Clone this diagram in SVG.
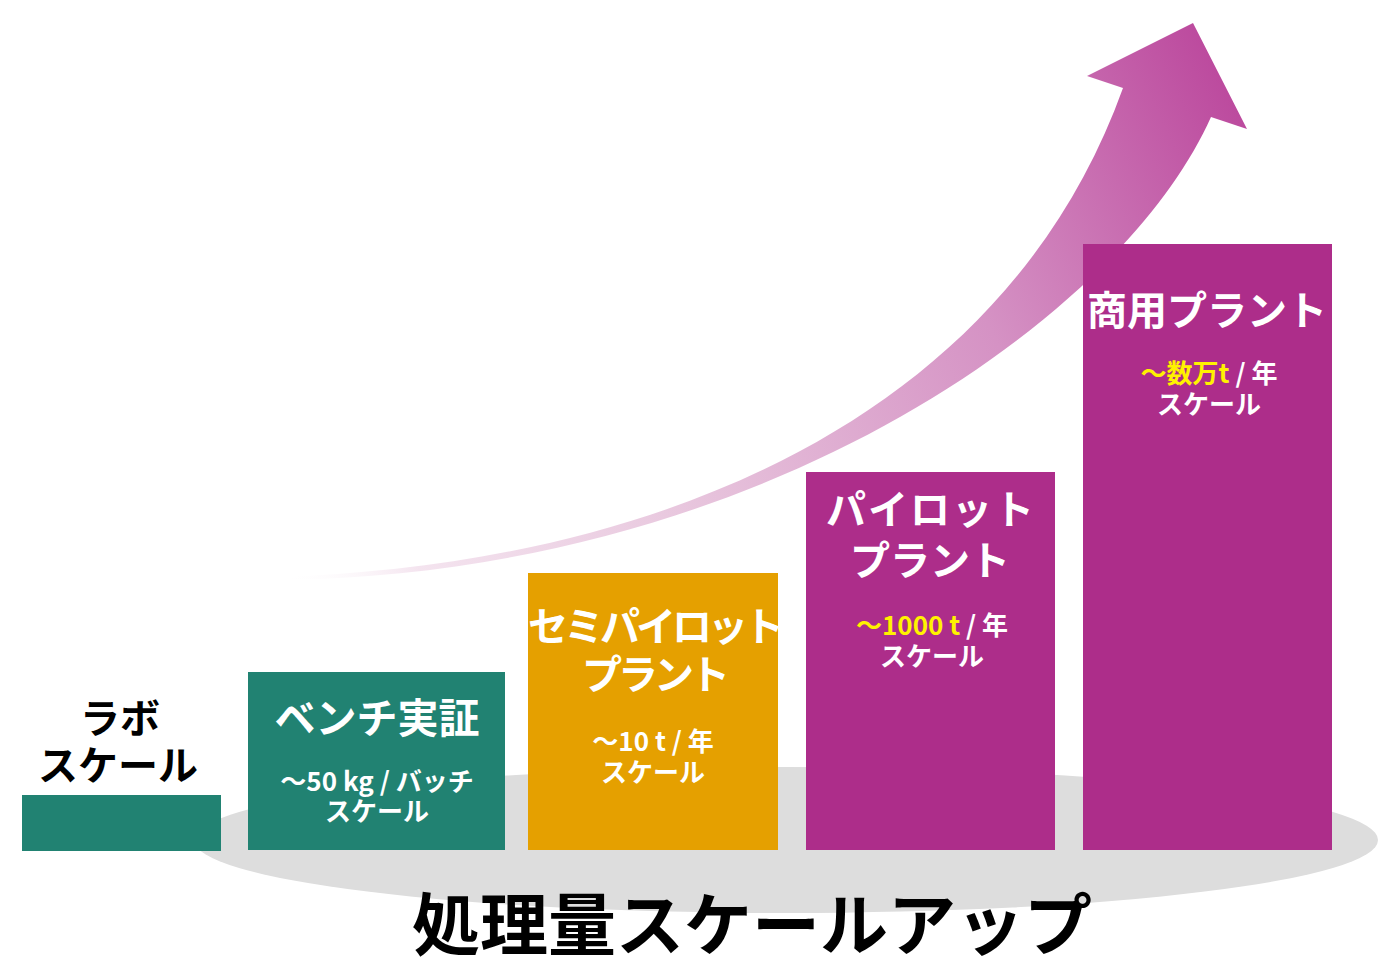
<svg xmlns="http://www.w3.org/2000/svg" width="1400" height="980" viewBox="0 0 1400 980">
<style>
text{font-family:"Noto Sans CJK JP","Noto Sans",sans-serif;font-weight:bold;text-anchor:middle}
.w{fill:#fff}
.k{fill:#000}
.y{fill:#FFF200}
.t{font-size:40px}
.s{font-size:26px}
</style>
<defs>
<linearGradient id="ag" gradientUnits="userSpaceOnUse" x1="280" y1="578" x2="1240" y2="110">
<stop offset="0" stop-color="#fff" stop-opacity="0"/>
<stop offset="0.12" stop-color="#F4E4EF"/>
<stop offset="0.35" stop-color="#E9C9DF"/>
<stop offset="0.7" stop-color="#D592C4"/>
<stop offset="1" stop-color="#BC4A9E"/>
</linearGradient>
</defs>
<rect width="1400" height="980" fill="#fff"/>
<ellipse id="base" cx="786" cy="840" rx="592" ry="73" fill="#DDDDDD"/>
<g id="arrow">
<path d="M280,577 C640,565 1000,430 1123,88 L1087,76 L1193,23 L1247,129 L1211,117 C1120,320 760,572 285,580 Z" fill="url(#ag)"/>
</g>
<g id="lab">
<rect x="22" y="795" width="199" height="56" fill="#218272"/>
<text class="t k" x="120" y="733">ラボ</text>
<text class="t k" x="118" y="780">スケール</text>
</g>
<g id="bench">
<rect x="248" y="672" width="257" height="178" fill="#218272"/>
<text class="w" x="377" y="733" font-size="41">ベンチ実証</text>
<text class="s w" x="377" y="791">～50 kg / バッチ</text>
<text class="s w" x="377" y="821">スケール</text>
</g>
<g id="semipilot">
<rect x="528" y="573" width="250" height="277" fill="#E5A000"/>
<text class="t w" x="654" y="641" letter-spacing="-4">セミパイロット</text>
<text class="t w" x="654" y="689" letter-spacing="-4">プラント</text>
<text class="s w" x="653" y="751">～10 t / 年</text>
<text class="s w" x="653" y="782">スケール</text>
</g>
<g id="pilot">
<rect x="806" y="472" width="249" height="378" fill="#AD2D8A"/>
<text class="t w" x="931" y="524" letter-spacing="2">パイロット</text>
<text class="t w" x="930" y="575">プラント</text>
<text class="s" x="932" y="635"><tspan class="y">～1000 t</tspan><tspan class="w"> / 年</tspan></text>
<text class="s w" x="932" y="666">スケール</text>
</g>
<g id="commercial">
<rect x="1083" y="244" width="249" height="606" fill="#AD2D8A"/>
<text class="t w" x="1207" y="325">商用プラント</text>
<text class="s" x="1209" y="383"><tspan class="y">～数万t</tspan><tspan class="w"> / 年</tspan></text>
<text class="s w" x="1209" y="414">スケール</text>
</g>
<g id="connectors"></g>
<text class="k" x="752" y="950" font-size="68">処理量スケールアップ</text>
</svg>
